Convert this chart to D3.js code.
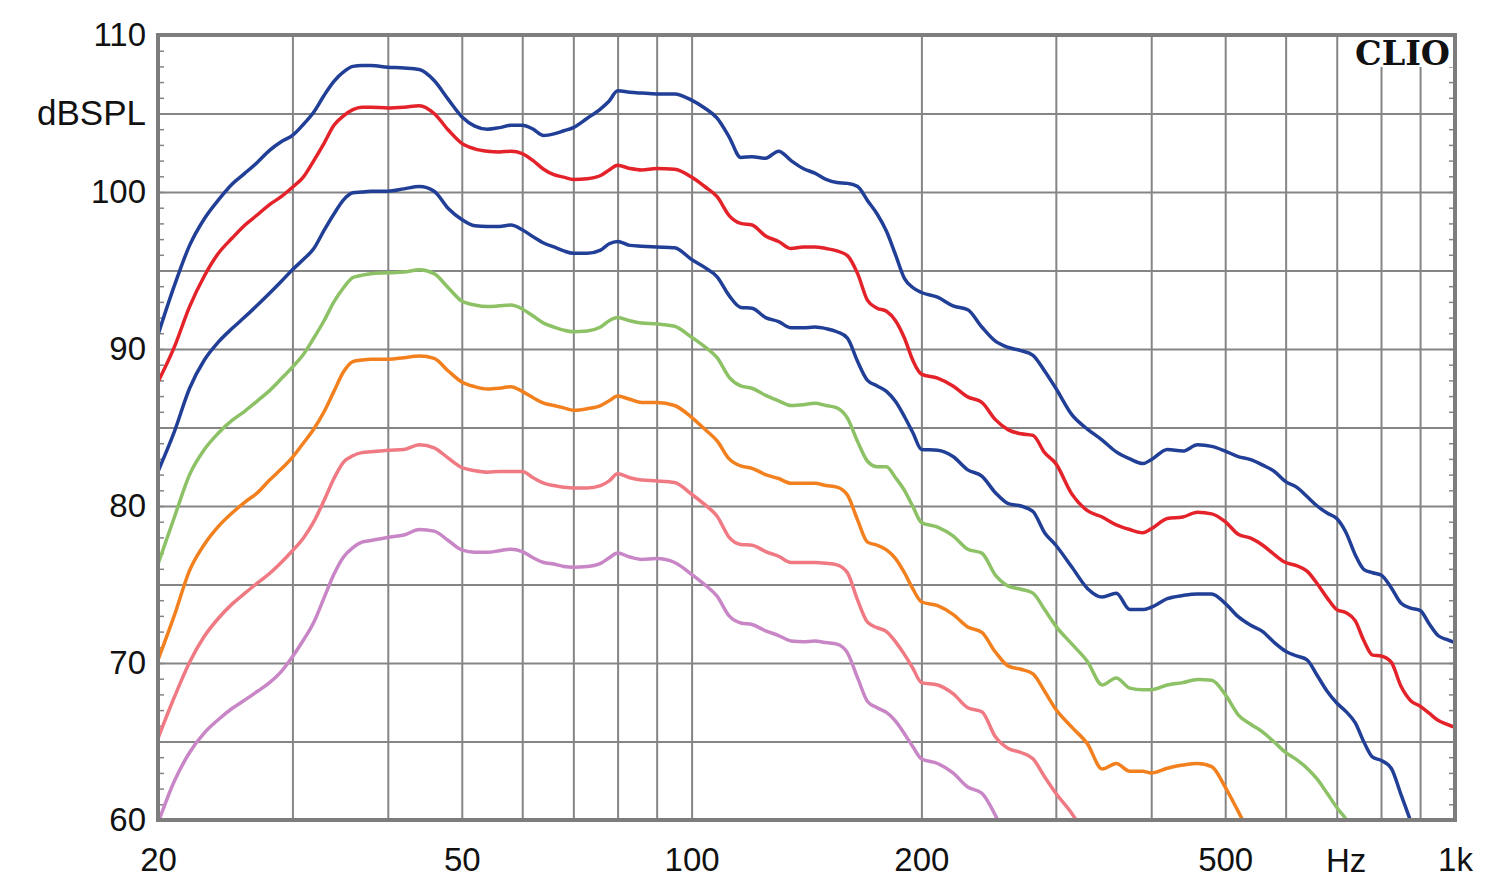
<!DOCTYPE html>
<html>
<head>
<meta charset="utf-8">
<script src="https://cdn.jsdelivr.net/npm/d3@7"></script>
<style>
  html, body { margin: 0; padding: 0; background: #ffffff; }
  svg { display: block; }
  .lbl text { font-family: "Liberation Sans", Arial, sans-serif; font-size: 33px; fill: #111; }
</style>
</head>
<body>
<svg id="chart" width="1500" height="893"></svg>
<script>
// ---------------- data ----------------
const freqs = [20,21,22,23,24,25,26,27,28,29,30,31,32,33,34,35,36,37,38,
  40,42,44,46,48,50,52,54,56,58,60,62,64,66,68,70,
  73,76,78,80,83,86,90,95,100,
  104,108,112,116,120,125,130,135,140,145,150,155,160,165,170,175,180,185,190,195,200,
  210,220,230,240,250,260,270,280,290,300,
  315,330,345,360,375,390,400,
  420,440,460,480,500,520,540,560,580,600,
  620,640,660,680,700,720,740,760,780,800,
  825,850,875,900,925,950,975,1000];

const seriesA = [90.9,94.0,96.6,98.3,99.5,100.5,101.2,101.9,102.65,103.2,103.6,104.3,105.1,106.15,107.05,107.65,108.0,108.05,108.05,
  107.95,107.9,107.8,107.1,105.9,104.8,104.2,104.0,104.1,104.25,104.25,104.0,103.6,103.7,103.9,104.1,
  104.7,105.3,105.8,106.45,106.35,106.3,106.25,106.25,105.85,
  105.35,104.7,103.5,102.2,102.25,102.15,102.6,102.0,101.5,101.2,100.8,100.6,100.55,100.35,99.45,98.6,97.5,96.0,94.5,93.9,93.6,
  93.3,92.75,92.5,91.4,90.5,90.1,89.9,89.6,88.6,87.5,
  85.8,84.9,84.2,83.45,83.0,82.7,82.95,
  83.6,83.5,83.9,83.8,83.5,83.15,82.95,82.6,82.2,81.55,
  81.2,80.6,80.0,79.55,79.2,78.3,76.9,75.95,75.75,75.6,
  74.8,73.8,73.5,73.35,72.5,71.75,71.5,71.3];

const seriesB = [87.9,90.1,92.7,94.65,96.1,97.05,97.9,98.55,99.2,99.7,100.3,100.95,102.0,103.1,104.25,104.85,105.25,105.4,105.4,
  105.35,105.4,105.5,105.0,103.95,103.1,102.75,102.6,102.55,102.6,102.45,102.0,101.45,101.1,100.95,100.8,
  100.85,101.05,101.4,101.7,101.5,101.4,101.5,101.45,100.95,
  100.35,99.7,98.5,98.0,97.9,97.2,96.85,96.4,96.5,96.5,96.4,96.25,95.95,94.8,93.1,92.6,92.4,91.8,90.7,89.25,88.4,
  88.15,87.65,86.95,86.6,85.5,84.85,84.6,84.5,83.4,82.7,
  80.75,79.7,79.3,78.8,78.5,78.3,78.55,
  79.2,79.3,79.6,79.5,79.0,78.2,77.95,77.5,76.9,76.4,
  76.2,75.85,75.05,74.15,73.4,73.2,72.7,71.4,70.5,70.45,
  70.05,68.5,67.6,67.25,66.8,66.35,66.1,65.9];

const seriesC = [82.2,84.7,87.5,89.3,90.45,91.3,92.05,92.8,93.55,94.3,95.05,95.7,96.4,97.55,98.6,99.5,99.95,100.0,100.05,
  100.05,100.2,100.35,100.05,98.95,98.25,97.85,97.8,97.8,97.9,97.6,97.15,96.75,96.5,96.25,96.1,
  96.1,96.3,96.7,96.85,96.6,96.55,96.5,96.45,95.7,
  95.2,94.6,93.4,92.65,92.6,92.0,91.75,91.35,91.35,91.4,91.3,91.1,90.7,89.2,88.0,87.65,87.3,86.65,85.7,84.65,83.6,
  83.55,83.15,82.3,81.9,80.85,80.15,80.0,79.65,78.3,77.5,
  76.1,74.75,74.2,74.45,73.4,73.4,73.55,
  74.1,74.3,74.4,74.4,73.8,72.95,72.4,72.0,71.3,70.75,
  70.45,70.2,69.2,68.2,67.45,66.9,66.2,64.95,64.0,63.8,
  63.3,61.6,59.9,58.0];

const seriesD = [76.3,79.25,82.0,83.6,84.65,85.45,86.05,86.7,87.35,88.1,88.85,89.65,90.7,91.8,93.0,93.9,94.55,94.7,94.8,
  94.85,94.9,95.05,94.8,93.9,93.05,92.8,92.7,92.75,92.8,92.55,92.1,91.65,91.4,91.2,91.1,
  91.15,91.4,91.8,92.0,91.8,91.65,91.6,91.45,90.75,
  90.15,89.45,88.2,87.65,87.5,87.05,86.7,86.4,86.45,86.55,86.4,86.25,85.6,84.1,82.85,82.5,82.5,81.8,81.0,79.95,78.95,
  78.65,78.1,77.25,77.0,75.6,74.9,74.7,74.45,73.4,72.35,
  71.2,70.1,68.6,69.05,68.4,68.3,68.3,
  68.6,68.75,68.95,68.9,68.0,66.7,66.1,65.6,64.95,64.3,
  63.85,63.3,62.6,61.7,60.8,60.05,59.0];

const seriesE = [70.2,73.0,75.9,77.55,78.7,79.55,80.25,80.85,81.65,82.35,83.1,84.0,84.9,86.0,87.3,88.55,89.2,89.3,89.35,
  89.35,89.45,89.55,89.4,88.6,87.9,87.6,87.45,87.5,87.6,87.3,86.9,86.55,86.4,86.25,86.1,
  86.2,86.4,86.7,87.0,86.8,86.6,86.6,86.4,85.65,
  84.9,84.15,83.0,82.55,82.4,82.0,81.75,81.45,81.45,81.45,81.3,81.2,80.7,79.1,77.7,77.5,77.2,76.65,75.75,74.7,73.9,
  73.65,73.1,72.3,71.95,70.7,69.8,69.6,69.3,68.2,67.05,
  65.9,64.85,63.25,63.6,63.1,63.1,63.0,
  63.3,63.5,63.6,63.4,62.1,60.55,59.0];

const seriesF = [65.2,67.8,70.05,71.7,72.85,73.75,74.45,75.1,75.7,76.4,77.15,77.95,79.0,80.35,81.75,82.8,83.2,83.4,83.45,
  83.55,83.6,83.9,83.7,83.05,82.45,82.25,82.15,82.2,82.2,82.2,81.8,81.45,81.3,81.2,81.15,
  81.15,81.3,81.6,82.05,81.8,81.65,81.6,81.5,80.75,
  80.1,79.35,78.0,77.55,77.5,77.1,76.8,76.4,76.4,76.4,76.35,76.25,75.75,74.0,72.6,72.25,72.0,71.35,70.55,69.65,68.75,
  68.6,68.05,67.15,66.9,65.3,64.55,64.3,63.9,62.75,61.7,
  60.4,58.8];

const seriesG = [59.8,62.45,64.3,65.55,66.4,67.1,67.65,68.2,68.75,69.45,70.4,71.45,72.6,74.15,75.65,76.75,77.35,77.7,77.8,
  78.0,78.15,78.5,78.4,77.8,77.2,77.05,77.05,77.15,77.25,77.1,76.7,76.4,76.3,76.15,76.1,
  76.15,76.35,76.7,77.0,76.75,76.6,76.65,76.4,75.65,
  75.0,74.25,73.0,72.55,72.45,72.05,71.75,71.4,71.35,71.4,71.3,71.2,70.65,69.05,67.55,67.15,66.85,66.3,65.5,64.65,63.9,
  63.6,63.0,62.1,61.7,60.3,58.5];

const seriesColors = ["#213f96", "#e4222a", "#213f96", "#8dc166", "#f2801f", "#f07a83", "#c886c6"];
const allSeries = [seriesA, seriesB, seriesC, seriesD, seriesE, seriesF, seriesG];

const yLabelTicks = [110, 100, 90, 80, 70, 60];
const xLabelTicks = [20, 50, 100, 200, 500, 1000];
const xLabelText = {20: "20", 50: "50", 100: "100", 200: "200", 500: "500", 1000: "1k"};
const xGridTicks = [30, 40, 50, 60, 70, 80, 90, 100, 200, 300, 400, 500, 600, 700, 800, 900];
const yGridTicks = [65, 70, 75, 80, 85, 90, 95, 100, 105];
const yMinorTicks = d3.range(61, 110);
const unitX = "Hz";
const unitXAt = 720;
const unitY = "dBSPL";
const unitYAt = 105;
const brand = "CLIO";

// ---------------- layout ----------------
const svg = d3.select("#chart");
const L = 158, T = 35, R = 1455, B = 820;
const W = R - L, H = B - T;

const x = d3.scaleLog().domain([20, 1000]).range([0, W]);
const y = d3.scaleLinear().domain([60, 110]).range([H, 0]);

const g = svg.append("g").attr("transform", `translate(${L},${T})`);

// grid
const gridColor = "#858585";
g.append("g").attr("class", "vgrid")
  .call(d3.axisBottom(x).tickValues(xGridTicks).tickSize(H).tickFormat(""))
  .call(s => s.select(".domain").remove())
  .call(s => s.selectAll("line").attr("stroke", gridColor).attr("stroke-width", 2));

g.append("g").attr("class", "hgrid")
  .call(d3.axisLeft(y).tickValues(yGridTicks).tickSize(-W).tickFormat(""))
  .call(s => s.select(".domain").remove())
  .call(s => s.selectAll("line").attr("stroke", gridColor).attr("stroke-width", 2));

// minor ticks (inside, left and right)
g.append("g")
  .call(d3.axisLeft(y).tickValues(yMinorTicks).tickSize(-6).tickFormat(""))
  .call(s => s.select(".domain").remove())
  .call(s => s.selectAll("line").attr("stroke", gridColor).attr("stroke-width", 1.5));
g.append("g").attr("transform", `translate(${W},0)`)
  .call(d3.axisRight(y).tickValues(yMinorTicks).tickSize(-6).tickFormat(""))
  .call(s => s.select(".domain").remove())
  .call(s => s.selectAll("line").attr("stroke", gridColor).attr("stroke-width", 1.5));

// CLIO box
g.append("rect")
  .attr("x", W - 103).attr("y", 2).attr("width", 101).attr("height", 30)
  .attr("fill", "#ffffff");
g.append("text")
  .attr("x", W - 100).attr("y", 30)
  .attr("font-family", "'DejaVu Serif', serif")
  .attr("font-weight", "bold")
  .attr("font-size", 33)
  .attr("textLength", 95)
  .attr("lengthAdjust", "spacingAndGlyphs")
  .attr("fill", "#111")
  .text(brand);

// curves
const clipId = "plotclip";
svg.append("defs").append("clipPath").attr("id", clipId)
  .append("rect").attr("x", 0).attr("y", -2).attr("width", W).attr("height", H + 1);

const line = d3.line()
  .x(d => x(d[0]))
  .y(d => y(d[1]))
  .curve(d3.curveMonotoneX);

const curves = g.append("g").attr("clip-path", `url(#${clipId})`);
allSeries.slice().reverse().forEach((vals, i) => {
  const idx = allSeries.length - 1 - i;
  const pts = vals.map((v, k) => [freqs[k], v]);
  curves.append("path")
    .attr("d", line(pts))
    .attr("fill", "none")
    .attr("stroke", seriesColors[idx])
    .attr("stroke-width", 3.5)
    .attr("stroke-linejoin", "round")
    .attr("stroke-linecap", "round");
});

// frame
g.append("rect")
  .attr("x", 0).attr("y", 0).attr("width", W).attr("height", H)
  .attr("fill", "none").attr("stroke", "#7d7d7d").attr("stroke-width", 4);

// axis labels
g.append("g").attr("class", "lbl")
  .call(d3.axisLeft(y).tickValues(yLabelTicks).tickSize(0).tickPadding(12).tickFormat(d3.format("d")))
  .call(s => s.select(".domain").remove());

g.append("g").attr("class", "lbl").attr("transform", `translate(0,${H})`)
  .call(d3.axisBottom(x).tickValues(xLabelTicks).tickSize(0).tickPadding(28).tickFormat(d => xLabelText[d]))
  .call(s => s.select(".domain").remove());

g.append("g").attr("class", "lbl")
  .append("text")
  .attr("x", x(unitXAt)).attr("y", H + 52)
  .attr("text-anchor", "middle")
  .text(unitX);

g.append("g").attr("class", "lbl")
  .append("text")
  .attr("x", -12).attr("y", y(unitYAt)).attr("dy", "0.32em")
  .attr("text-anchor", "end")
  .style("font-size", "35px")
  .text(unitY);
</script>
</body>
</html>
